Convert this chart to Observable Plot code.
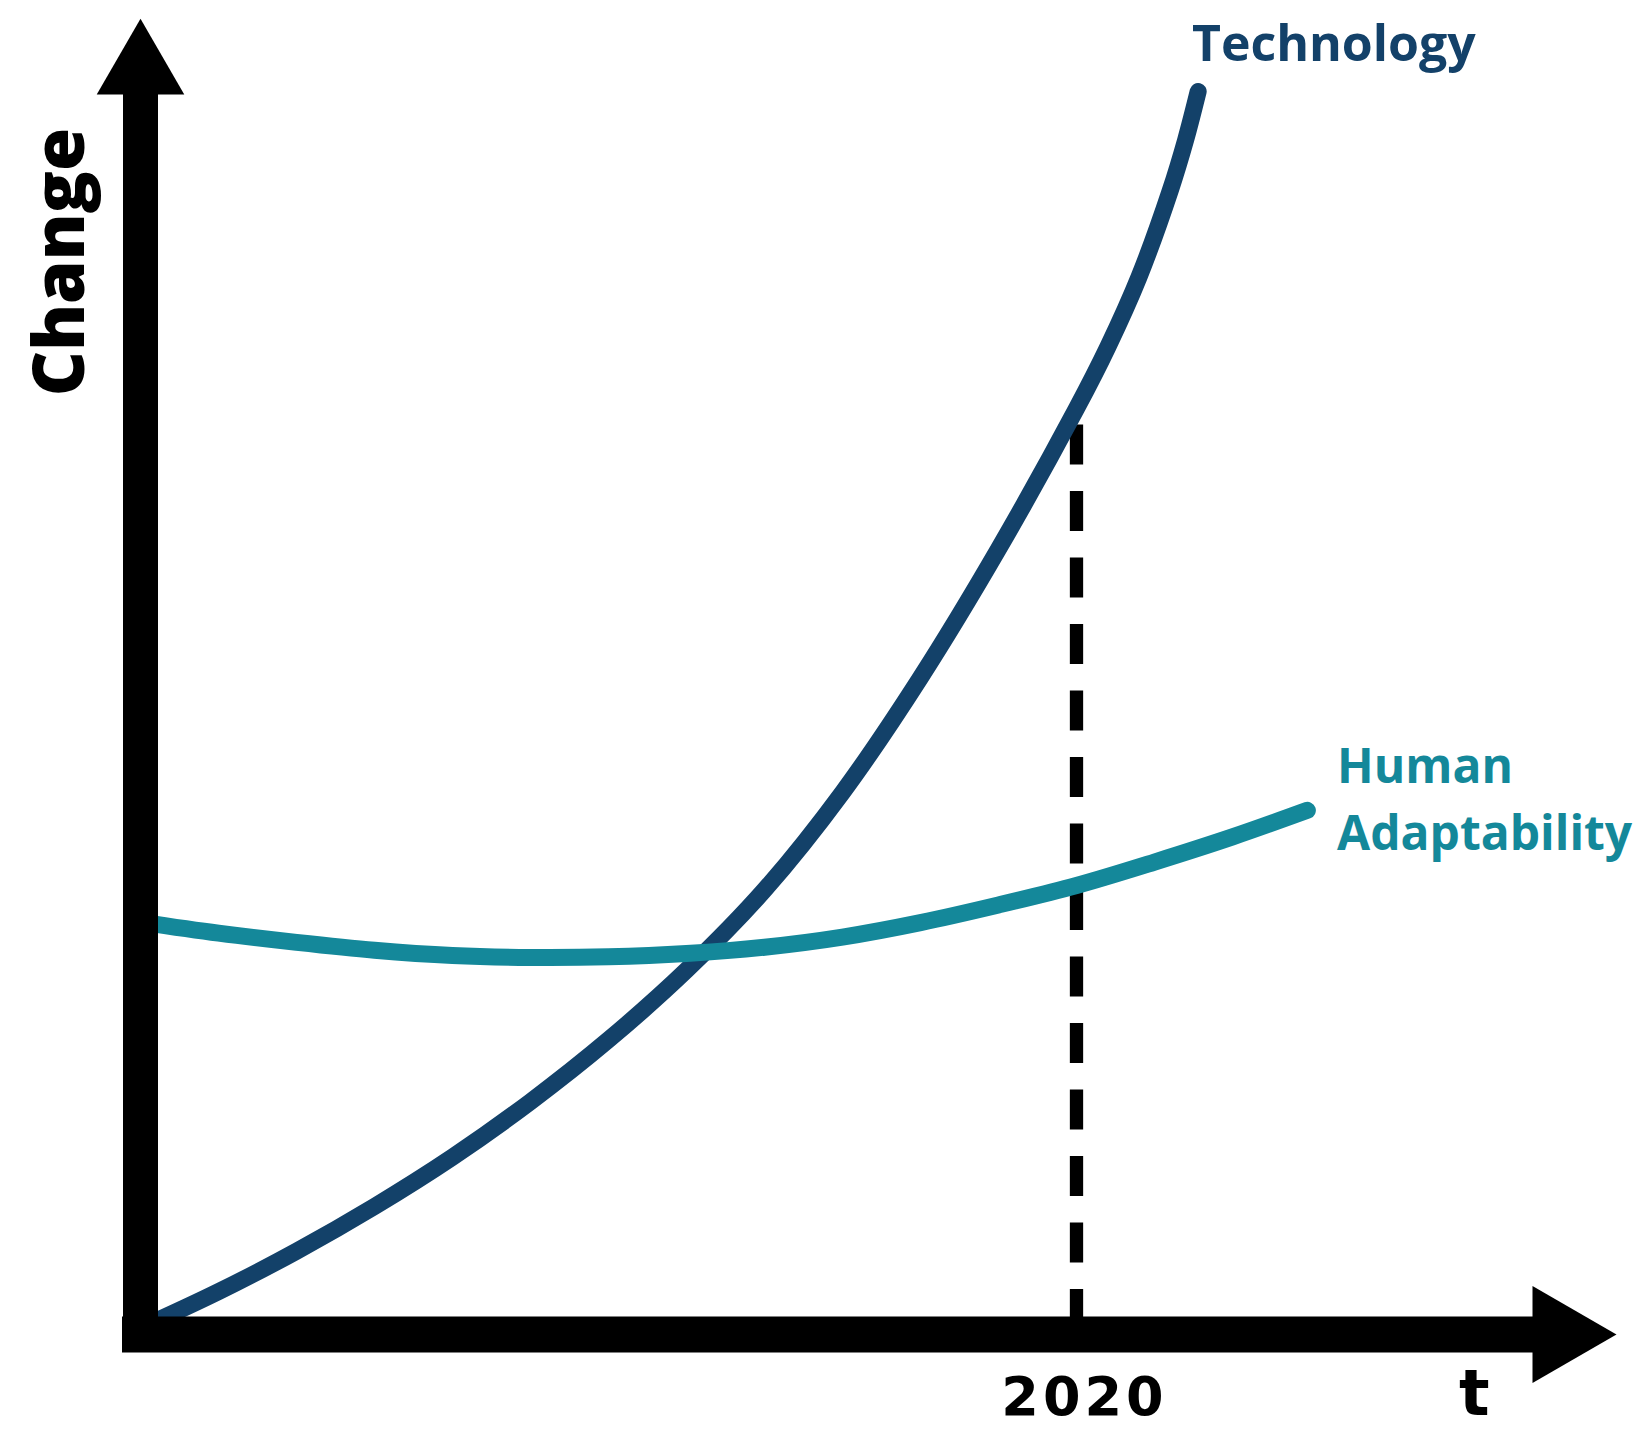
<!DOCTYPE html>
<html><head><meta charset="utf-8">
<script src="https://cdn.jsdelivr.net/npm/d3@7"></script>
<script src="https://cdn.jsdelivr.net/npm/@observablehq/plot@0.6"></script>
<style>html,body{margin:0;padding:0;background:#fff;overflow:hidden}</style>
</head><body><div id="chart"></div>
<script>
// ---- data ----
const techYears  = [1960, 1965, 1970, 1975, 1980, 1985, 1990, 1995, 2000, 2005, 2010, 2015, 2020, 2022, 2024, 2026, 2027, 2027.8];
const techValues = [0.48, 3.25, 6.33, 9.73, 13.48, 17.69, 22.39, 27.68, 33.78, 41.19, 49.92, 59.69, 70.36, 75.02, 80.34, 86.89, 90.79, 94.46];
const humanYears  = [1960, 1965, 1970, 1975, 1980, 1985, 1990, 1995, 2000, 2005, 2010, 2015, 2020, 2025, 2030, 2034.8];
const humanValues = [31.34, 30.5, 29.8, 29.2, 28.8, 28.65, 28.7, 28.95, 29.43, 30.2, 31.3, 32.64, 34.12, 35.9, 37.81, 39.83];
const seriesNames  = ["Technology", "Human\nAdaptability"];
const seriesColors = ["#134169", "#14889a"];
const seriesLabelX = [2027.4, 2036.7];
const seriesLabelY = [96.8, 36.8];
const xTicks = [2020];
const xTickLabels = ["2020"];
const xLabel = "t";
const yLabel = "Change";
const xDomain = [1960, 2055];
const yDomain = [0, 100];
const xAxisEnd = 2049;   // where the x bar meets its arrowhead
const yAxisEnd = 94.2;   // where the y bar meets its arrowhead
const markedYear = 2020;

// ---- tables ----
const tech = techYears.map((x, i) => ({x, y: techValues[i]}));
const human = humanYears.map((x, i) => ({x, y: humanValues[i]}));
const labels = seriesNames.map((name, i) => ({name, x: seriesLabelX[i], y: seriesLabelY[i], color: seriesColors[i]}));
const techAtMark = techValues[techYears.indexOf(markedYear)];

const heavy = "'Open Sans', 'Noto Sans', sans-serif";
const digits = "'DejaVu Sans', sans-serif";

const chart = Plot.plot({
  width: 1634,
  height: 1440,
  x: {domain: xDomain, range: [140, 1622], axis: null},
  y: {domain: yDomain, range: [1334, 18], axis: null},
  marks: [
    // dashed reference line at 2020
    Plot.ruleX([markedYear], {x: d => d, y1: techAtMark, y2: 0, stroke: "black", strokeWidth: 13.3,
      strokeDasharray: "40,26.5", strokeDashoffset: 50}),
    // curves
    Plot.line(tech, {x: "x", y: "y", stroke: seriesColors[0], strokeWidth: 17, curve: "catmull-rom", strokeLinecap: "round"}),
    Plot.line(human, {x: "x", y: "y", stroke: seriesColors[1], strokeWidth: 17, curve: "catmull-rom", strokeLinecap: "round"}),
    // axes (thick bars)
    Plot.ruleX([xDomain[0]], {x: d => d, y1: yDomain[0], y2: yAxisEnd, stroke: "black", strokeWidth: 35, strokeLinecap: "square"}),
    Plot.ruleY([yDomain[0]], {y: d => d, x1: xDomain[0], x2: xAxisEnd, stroke: "black", strokeWidth: 36, strokeLinecap: "square"}),
    // arrowheads
    Plot.dot([0], {x: () => xDomain[0], y: () => yDomain[1], symbol: "triangle", r: 32.5, dy: 50.7, fill: "black", stroke: null}),
    Plot.dot([0], {x: () => xDomain[1], y: () => yDomain[0], symbol: "triangle", r: 36, dx: -62, rotate: 90, fill: "black", stroke: null}),
    // tick label and axis labels
    Plot.text(xTicks, {x: d => d, y: () => yDomain[0], text: (d, i) => xTickLabels[i], dy: 80, dx: 8, lineAnchor: "bottom",
      fontFamily: digits, fontWeight: "bold", fontSize: 54, fill: "black"}),
    Plot.text([xLabel], {x: () => 2045.5, y: () => yDomain[0], text: d => d, dy: 80, lineAnchor: "bottom",
      fontFamily: digits, fontWeight: "bold", fontSize: 64, fill: "black"}),
    Plot.text([yLabel], {x: () => 1956.35, y: () => 81.5, text: d => d, rotate: -90, lineAnchor: "bottom", textAnchor: "middle",
      fontFamily: heavy, fontWeight: 800, fontSize: 70, fill: "black"}),
    // series labels
    Plot.text(labels, {x: "x", y: "y", text: "name", fill: "color", textAnchor: "start", lineAnchor: "bottom",
      fontFamily: heavy, fontWeight: "bold", fontSize: (d, i) => i === 0 ? 50 : 48, lineHeight: 1.396})
  ]
});
// widen the tick label slightly, like the reference's wide digits
d3.select(chart).selectAll("text").filter(function() { return xTickLabels.includes(this.textContent); })
  .attr("letter-spacing", "4px");
document.getElementById("chart").appendChild(chart);
</script>
</body></html>
